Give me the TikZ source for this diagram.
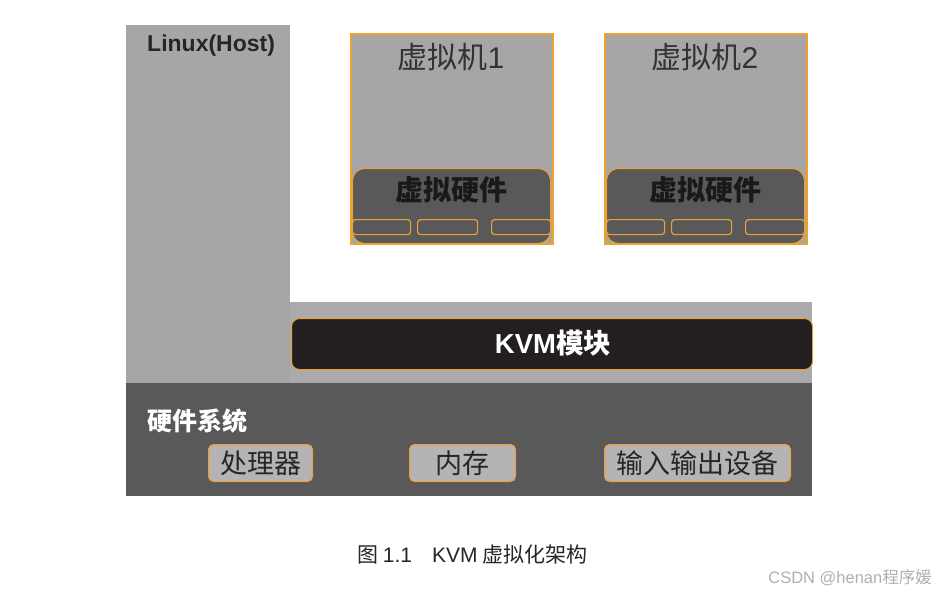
\documentclass[tikz,border=0pt]{standalone}
\usepackage{fontspec}
\setmainfont{Noto Sans CJK SC}
\newfontfamily\latf{Liberation Sans}
\definecolor{lgray}{HTML}{A6A6A6}
\definecolor{dgray}{HTML}{595959}
\definecolor{kblack}{HTML}{231F20}
\definecolor{org}{HTML}{F0A030}
\definecolor{boxgray}{HTML}{B4B4B4}
\definecolor{wm}{HTML}{B0B0B0}
\tikzset{
  region/.style={inner sep=0pt, outer sep=0pt},
  vmbox/.style={draw=org, line width=1.5pt, fill=lgray, minimum width=202pt, minimum height=210pt, inner sep=0pt, anchor=north west},
  vhw/.style={draw=org, line width=1pt, fill=dgray, rounded corners=12pt, minimum width=198pt, minimum height=75pt, inner sep=0pt, anchor=north west},
  slot/.style={draw=org, line width=1.2pt, fill=dgray, rounded corners=3pt, minimum width=58pt, minimum height=15pt, inner sep=0pt, anchor=north west},
  hwpart/.style={draw=org, line width=1pt, fill=boxgray, rounded corners=5pt, minimum height=37pt, inner sep=0pt, anchor=north west, font=\fontsize{27pt}{29pt}\selectfont, text=black!85},
  vmtitle/.style={font=\fontsize{30pt}{32pt}\selectfont, text=black!80},
  vhwtitle/.style={font=\fontsize{28pt}{30pt}\selectfont\bfseries, text=black!90},
}
\begin{document}
\begin{tikzpicture}[x=1pt,y=-1pt]
\useasboundingbox (0,0) rectangle (936,592);
\fill[white] (0,0) rectangle (936,592);
% Linux host column and band
\node[region, fill=lgray, minimum width=164pt, minimum height=358pt, anchor=north west] (linux) at (126,25) {};
\node[region, fill=lgray!95!white, minimum width=522pt, minimum height=81pt, anchor=north west] (band) at (290,302) {};
\node[anchor=north west, inner sep=0pt, font=\latf\fontsize{23pt}{25pt}\selectfont\bfseries, text=black!85] (linuxlbl) at (147,35) {Linux(Host)};
% KVM module
\node[draw=org, line width=1pt, fill=kblack, rounded corners=8pt, minimum width=521pt, minimum height=51pt, inner sep=0pt, anchor=north west] (kvm) at (291,318) {};
\node[text=white, font=\fontsize{27.5pt}{29pt}\selectfont\bfseries] (kvmlbl) at (553,343) {{\latf\bfseries KVM}模块};
% Hardware
\node[region, fill=dgray, minimum width=686pt, minimum height=113pt, anchor=north west] (hw) at (126,383) {};
\node[anchor=west, inner sep=0pt, text=white, font=\fontsize{25pt}{27pt}\selectfont\bfseries] (hwlbl) at (147,421) {硬件系统};
\node[hwpart, minimum width=104pt] (cpu) at (208,444) {处理器};
\node[hwpart, minimum width=106pt] (mem) at (409,444) {内存};
\node[hwpart, minimum width=186pt] (io) at (604,444) {输入输出设备};
% VM1
\node[vmbox] (vm1) at (350,33) {};
\node[vmtitle] (vm1t) at (451,57) {虚拟机{\latf 1}};
\node[vhw] (vhw1) at (352,168) {};
\node[vhwtitle] (vhw1t) at (451,190) {虚拟硬件};
\node[slot] (s11) at (352,219) {};
\node[slot, minimum width=60pt] (s12) at (417,219) {};
\node[slot, minimum width=59pt] (s13) at (491,219) {};
% VM2
\node[vmbox] (vm2) at (604,33) {};
\node[vmtitle] (vm2t) at (705,57) {虚拟机{\latf 2}};
\node[vhw] (vhw2) at (606,168) {};
\node[vhwtitle] (vhw2t) at (705,190) {虚拟硬件};
\node[slot] (s21) at (606,219) {};
\node[slot, minimum width=60pt] (s22) at (671,219) {};
\node[slot, minimum width=59pt] (s23) at (745,219) {};
% Caption
\node[anchor=west, inner sep=0pt, font=\fontsize{21pt}{23pt}\selectfont, text=black!85] (cap) at (357,555) {图 {\latf 1.1}\hspace{20pt}{\latf KVM} 虚拟化架构};
\node[anchor=east, inner sep=0pt, font=\fontsize{16.5pt}{18pt}\selectfont, text=wm] (wmk) at (932,578) {{\latf CSDN @henan}程序媛};
\end{tikzpicture}
\end{document}
